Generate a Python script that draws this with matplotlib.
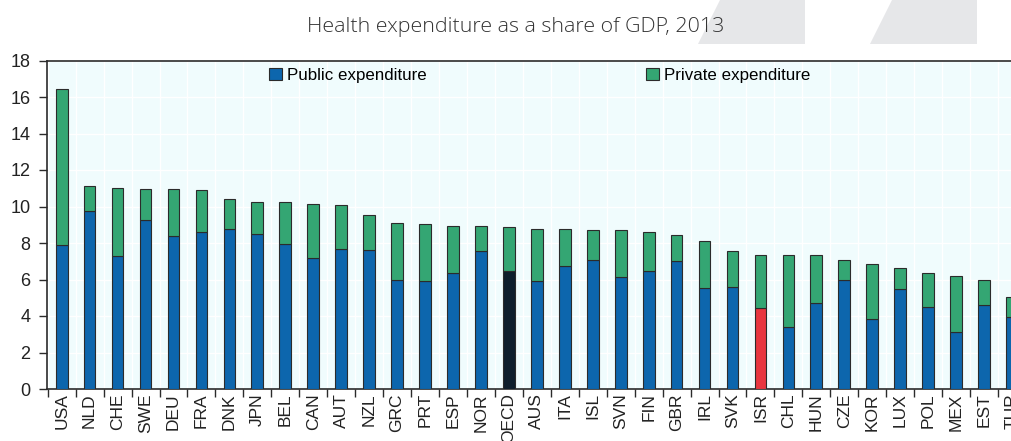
import numpy as np
import matplotlib
matplotlib.use('Agg')
import matplotlib.pyplot as plt
from matplotlib.patches import Patch, Polygon

countries = ['USA', 'NLD', 'CHE', 'SWE', 'DEU', 'FRA', 'DNK', 'JPN', 'BEL', 'CAN',
             'AUT', 'NZL', 'GRC', 'PRT', 'ESP', 'NOR', 'OECD', 'AUS', 'ITA', 'ISL',
             'SVN', 'FIN', 'GBR', 'IRL', 'SVK', 'ISR', 'CHL', 'HUN', 'CZE', 'KOR',
             'LUX', 'POL', 'MEX', 'EST', 'TUR']
total = [16.43, 11.12, 11.01, 10.97, 10.97, 10.93, 10.39, 10.24, 10.22, 10.15,
         10.09, 9.53, 9.09, 9.04, 8.93, 8.91, 8.87, 8.78, 8.74, 8.73,
         8.69, 8.62, 8.45, 8.09, 7.58, 7.34, 7.36, 7.34, 7.08, 6.86,
         6.61, 6.33, 6.19, 5.97, 5.06]
public = [7.89, 9.73, 7.30, 9.24, 8.36, 8.60, 8.76, 8.51, 7.94, 7.17,
          7.67, 7.59, 5.99, 5.93, 6.37, 7.58, 6.46, 5.93, 6.75, 7.05,
          6.15, 6.46, 7.03, 5.53, 5.60, 4.42, 3.38, 4.73, 5.95, 3.82,
          5.48, 4.49, 3.14, 4.60, 3.96]
private = [t - p for t, p in zip(total, public)]

blue = '#0d66ad'
green = '#34a673'
edge = '#2b2b2b'
pub_colors = [blue] * len(countries)
pub_colors[countries.index('OECD')] = '#0e1e2c'
pub_colors[countries.index('ISR')] = '#e8363f'

plt.rcParams['font.family'] = ['Liberation Sans', 'DejaVu Sans']

fig = plt.figure(figsize=(10.12, 4.41), dpi=100)
ax = fig.add_axes([47 / 1012, 1 - 389 / 441, 1 - 47 / 1012, (389 - 60.5) / 441])

# grey decorative shapes behind the title
for x0, x1 in [(698, 805), (870, 977)]:
    pts = [(x0 / 1012, 1 - 44 / 441), (x1 / 1012, 1 - 44 / 441),
           (x1 / 1012, 1.0), ((x0 + 22) / 1012, 1.0)]
    fig.patches.append(Polygon(pts, closed=True, transform=fig.transFigure,
                               facecolor='#e6e7e9', edgecolor='none', zorder=0))

fig.text(516 / 1012, 1 - 27 / 441, 'Health expenditure as a share of GDP, 2013',
         ha='center', va='center', fontsize=15.4, color='#333333',
         family=['Open Sans', 'DejaVu Sans'], fontweight='light')

x = np.arange(len(countries))
w = 0.42
ax.bar(x, public, width=w, color=pub_colors, edgecolor=edge, linewidth=0.8, zorder=3)
ax.bar(x, private, width=w, bottom=public, color=green, edgecolor=edge,
       linewidth=0.8, zorder=3)

ax.set_facecolor('#f0fcfd')
ax.set_yticks(np.arange(0, 19, 2))
ax.set_xticks(x)
ax.set_xticklabels(countries, rotation=90, fontsize=12.5, color='#222222')
ax.set_xticks(np.arange(-0.5, len(countries), 1), minor=True)
ax.set_xlim(-0.525, 34.0)
ax.set_ylim(0, 18)
ax.tick_params(axis='x', which='major', length=0, pad=3)
ax.tick_params(axis='x', which='minor', length=6, width=1, color=edge)
ax.tick_params(axis='y', labelsize=13, length=6, width=1, pad=6, color=edge,
               labelcolor='#222222')
ax.grid(True, axis='y', color='white', linewidth=1, zorder=0)
ax.grid(True, axis='x', which='minor', color='white', linewidth=1, zorder=0)
ax.set_axisbelow(True)
for s in ['left', 'top', 'bottom']:
    ax.spines[s].set_color(edge)
    ax.spines[s].set_linewidth(1.2)
ax.spines['right'].set_visible(False)

h1 = Patch(facecolor=blue, edgecolor=edge, linewidth=0.8)
h2 = Patch(facecolor=green, edgecolor=edge, linewidth=0.8)
leg1 = ax.legend(handles=[h1], labels=['Public expenditure'], loc='center left',
                 bbox_to_anchor=((269 - 47) / 965, 0.955), frameon=False, fontsize=12.2,
                 handlelength=0.75, handleheight=0.75, handletextpad=0.3, borderaxespad=0,
                 borderpad=0)
ax.add_artist(leg1)
ax.legend(handles=[h2], labels=['Private expenditure'], loc='center left',
          bbox_to_anchor=((646 - 47) / 965, 0.955), frameon=False, fontsize=12.2,
          handlelength=0.75, handleheight=0.75, handletextpad=0.3, borderaxespad=0,
          borderpad=0)

fig.savefig('out.png', dpi=100)
